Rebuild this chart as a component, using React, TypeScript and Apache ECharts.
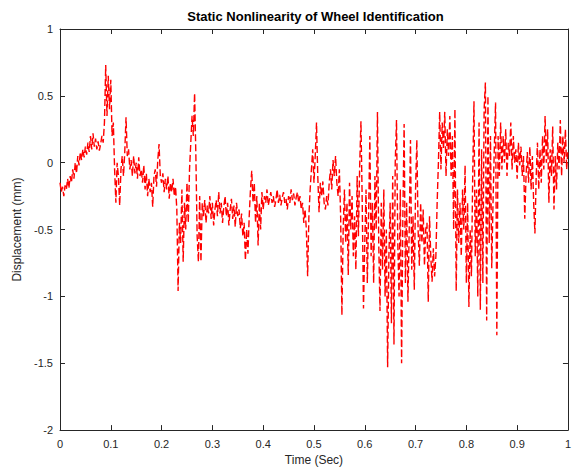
import React, { useEffect, useRef } from "react";
import * as echarts from "echarts";

const TITLE = "Static Nonlinearity of Wheel Identification";
const X_NAME = "Time (Sec)";
const Y_NAME = "Displacement (mm)";
const X_MIN = 0;
const X_MAX = 1;
const X_STEP_TICK = 0.1;
const Y_MIN = -2;
const Y_MAX = 1;
const Y_STEP_TICK = 0.5;
const SAMPLE_STEP = 0.0025;

// displacement samples, one every 0.0025 s
const displacement: number[] = [
  -0.15, -0.22, -0.18, -0.25, -0.17, -0.2, -0.12, -0.19, -0.1, -0.15,
  -0.05, -0.12, 0.0, -0.08, 0.05, -0.02, 0.08, 0.02, 0.1, 0.04,
  0.12, 0.06, 0.15, 0.08, 0.2, 0.1, 0.22, 0.12, 0.18, 0.1,
  0.16, 0.09, 0.14, 0.2, 0.15, 0.3, 0.73, 0.35, 0.65, 0.4,
  0.62, 0.2, 0.3, -0.05, -0.3, 0.0, -0.1, -0.32, -0.05, 0.05,
  -0.1, 0.08, 0.34, 0.05, 0.1, -0.05, 0.02, -0.1, 0.05, -0.08,
  0.0, -0.12, 0.04, -0.1, -0.05, -0.15, -0.02, -0.2, -0.08, -0.25,
  -0.12, -0.22, -0.15, -0.33, -0.1, -0.05, -0.18, 0.02, 0.14, -0.1,
  -0.15, -0.08, -0.22, -0.12, -0.2, -0.1, -0.27, -0.15, -0.22, -0.12,
  -0.25, -0.18, -0.35, -0.96, -0.45, -0.6, -0.2, -0.74, -0.3, -0.5,
  -0.15, -0.45, -0.05, 0.15, 0.35, 0.2, 0.52, 0.05, -0.55, -0.74,
  -0.25, -0.74, -0.3, -0.4, -0.28, -0.45, -0.32, -0.38, -0.25, -0.42,
  -0.3, -0.47, -0.35, -0.28, -0.4, -0.22, -0.38, -0.3, -0.45, -0.33,
  -0.25, -0.4, -0.3, -0.47, -0.35, -0.27, -0.42, -0.32, -0.48, -0.3,
  -0.4, -0.35, -0.49, -0.38, -0.55, -0.45, -0.73, -0.5, -0.68, -0.4,
  -0.2, -0.06, -0.3, -0.15, -0.45, -0.25, -0.62, -0.3, -0.5, -0.22,
  -0.35, -0.25, -0.3, -0.2, -0.32, -0.27, -0.22, -0.3, -0.25, -0.33,
  -0.28, -0.2, -0.3, -0.24, -0.32, -0.26, -0.22, -0.3, -0.27, -0.35,
  -0.25, -0.3, -0.2, -0.28, -0.23, -0.32, -0.26, -0.22, -0.3, -0.25,
  -0.35, -0.3, -0.45, -0.35, -0.5, -0.85, -0.4, -0.2, -0.05, 0.1,
  -0.15, 0.05, 0.3, -0.1, -0.37, -0.15, -0.25, -0.14, -0.3, -0.35,
  -0.25, -0.32, -0.15, -0.05, -0.2, 0.02, -0.1, 0.05, -0.15, -0.25,
  -0.05, -0.4, -1.14, -0.5, -0.2, -0.6, -0.3, -0.84, -0.15, -0.5,
  -0.25, -0.7, -0.4, -0.8, -0.1, -0.55, -0.02, 0.31, -0.3, -1.09,
  -0.6, -0.2, -0.9, -0.4, 0.2, -0.7, -0.3, -0.9, -0.1, -0.5,
  0.38, -0.6, -1.11, -0.3, -0.8, -0.2, -1.0, -0.5, -1.53, -0.7,
  -0.3, -1.2, -0.1, -1.36, 0.0, 0.32, -0.6, -1.0, -0.2, -1.5,
  -0.4, 0.29, -0.9, -0.3, -1.04, -0.5, 0.17, -0.8, -0.4, -0.95,
  -0.2, 0.17, -0.5, -0.77, -0.3, -0.6, -0.35, -0.77, -0.5, -0.45,
  -1.04, -0.4, -0.7, -0.89, -0.64, -0.85, -0.7, -0.3, 0.0, 0.38,
  -0.05, 0.3, 0.1, 0.38, -0.1, 0.25, 0.05, 0.35, -0.1, 0.2,
  -0.5, 0.4, -0.96, -0.2, -0.6, -0.3, -0.7, -0.2, -0.5, -0.02,
  -0.9, -0.3, -1.08, -0.5, -0.85, -0.1, 0.46, -0.7, -0.2, -1.0,
  0.3, -1.1, 0.1, -0.9, 0.4, 0.6, -1.18, 0.5, -0.6, 0.2,
  -0.79, -0.3, 0.1, 0.45, -1.29, 0.2, -0.1, 0.3, -0.05, 0.2,
  0.0, 0.25, -0.1, 0.15, 0.05, 0.3, -0.05, 0.2, 0.0, 0.1,
  -0.12, 0.15, -0.02, 0.12, -0.1, 0.05, -0.42, -0.1, 0.08, -0.15,
  0.12, -0.2, 0.05, -0.3, -0.53, -0.1, 0.15, -0.2, 0.1, -0.15,
  0.2, -0.05, 0.35, 0.0, 0.25, -0.3, 0.1, -0.1, 0.27, -0.35,
  0.05, -0.2, 0.15, -0.05, 0.32, -0.1, 0.2, 0.0, 0.25, -0.05, 0.1,
];

const AXIS_COLOR = "#262626";
const FONT = "'Liberation Sans', Arial, Helvetica, sans-serif";

export default function App() {
  const ref = useRef<HTMLDivElement>(null);

  useEffect(() => {
    if (!ref.current) return;
    const chart = echarts.init(ref.current, undefined, { renderer: "svg" });
    const points = displacement.map((v, i) => [
      Math.round(i * SAMPLE_STEP * 10000) / 10000,
      v,
    ]);

    const axisCommon = {
      axisLine: { show: true, onZero: false, lineStyle: { color: AXIS_COLOR, width: 1 } },
      axisTick: { show: true, inside: true, length: 5, lineStyle: { color: AXIS_COLOR } },
      splitLine: { show: false },
    };

    chart.setOption({
      animation: false,
      backgroundColor: "#ffffff",
      title: {
        text: TITLE,
        left: 310.5,
        textAlign: "center",
        top: 5,
        textStyle: { fontFamily: FONT, fontSize: 13, fontWeight: "bold", color: "#000000" },
      },
      grid: { left: 60, right: 3, top: 29, bottom: 38, containLabel: false },
      xAxis: [
        {
          type: "value",
          min: X_MIN,
          max: X_MAX,
          interval: X_STEP_TICK,
          position: "bottom",
          name: X_NAME,
          nameLocation: "middle",
          nameGap: 23,
          nameTextStyle: { fontFamily: FONT, fontSize: 12, color: AXIS_COLOR },
          axisLabel: {
            fontFamily: FONT,
            fontSize: 11,
            color: AXIS_COLOR,
            margin: 8,
            formatter: (v: number) => String(Math.round(v * 10) / 10),
          },
          ...axisCommon,
        },
        {
          type: "value",
          min: X_MIN,
          max: X_MAX,
          interval: X_STEP_TICK,
          position: "top",
          axisLabel: { show: false },
          ...axisCommon,
        },
      ],
      yAxis: [
        {
          type: "value",
          min: Y_MIN,
          max: Y_MAX,
          interval: Y_STEP_TICK,
          position: "left",
          name: Y_NAME,
          nameLocation: "middle",
          nameGap: 28,
          nameTextStyle: { fontFamily: FONT, fontSize: 12, color: AXIS_COLOR },
          axisLabel: {
            fontFamily: FONT,
            fontSize: 11,
            color: AXIS_COLOR,
            margin: 7,
            formatter: (v: number) => String(Math.round(v * 10) / 10),
          },
          ...axisCommon,
        },
        {
          type: "value",
          min: Y_MIN,
          max: Y_MAX,
          interval: Y_STEP_TICK,
          position: "right",
          axisLabel: { show: false },
          ...axisCommon,
        },
      ],
      series: [
        {
          type: "line",
          xAxisIndex: 0,
          yAxisIndex: 0,
          data: points,
          showSymbol: false,
          symbol: "none",
          lineStyle: { color: "#ff0000", width: 1.4, type: [7, 3] },
          z: 3,
        },
      ],
    });

    return () => chart.dispose();
  }, []);

  return (
    <div
      ref={ref}
      style={{ position: "fixed", left: 0, top: 0, width: 574, height: 471 }}
    />
  );
}
